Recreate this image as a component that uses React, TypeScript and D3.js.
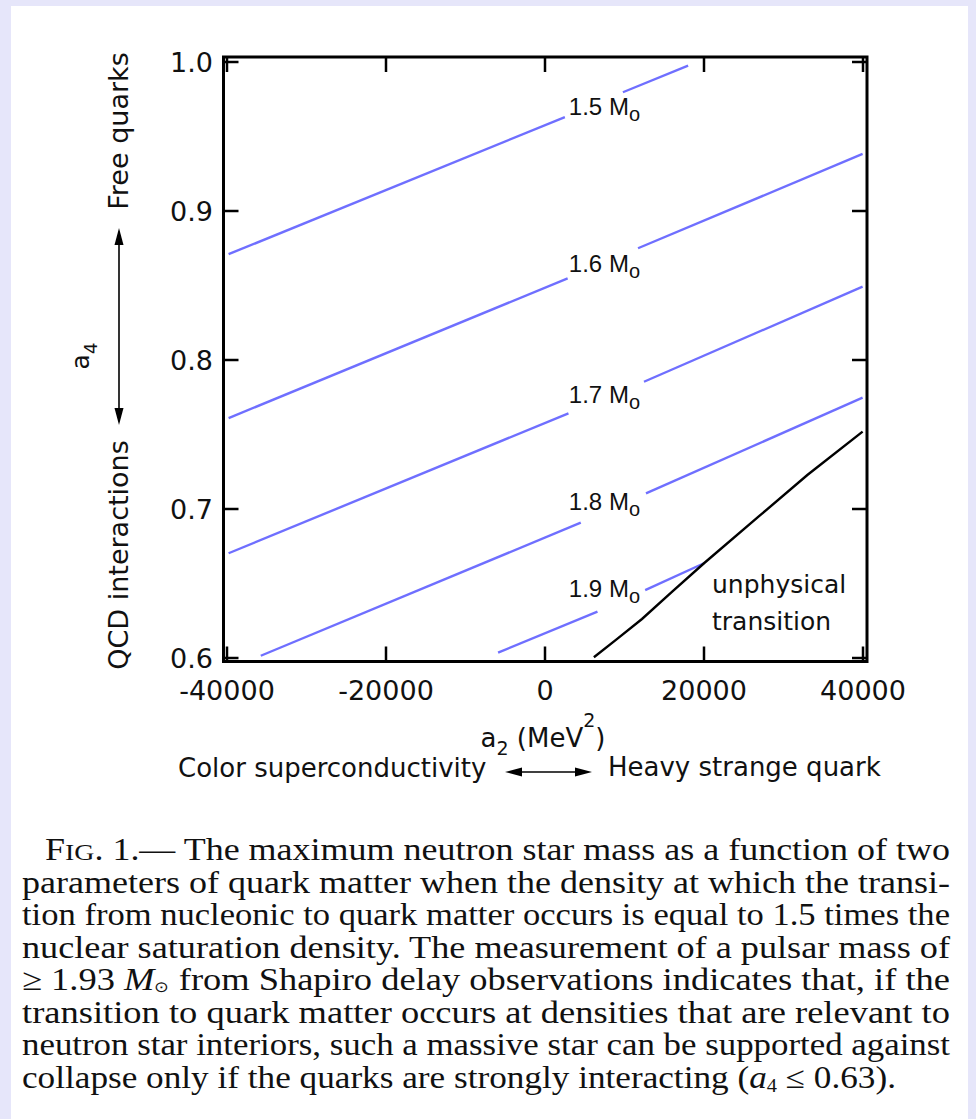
import React from "react";
import * as d3 from "d3";

type P = [number, number];

// ---- data ----
const A2_TICKS = [-40000, -20000, 0, 20000, 40000];
const A2_TICK_LABELS = ["-40000", "-20000", "0", "20000", "40000"];
const A4_TICKS = [0.6, 0.7, 0.8, 0.9, 1.0];
const A4_TICK_LABELS = ["0.6", "0.7", "0.8", "0.9", "1.0"];
const MASSES = ["1.5", "1.6", "1.7", "1.8", "1.9"];

// each contour: segments (broken where its label sits)
const M15: P[][] = [[[-39800, 0.871], [2500, 0.963]], [[9800, 0.9797], [18000, 0.9975]]];
const M16: P[][] = [[[-39800, 0.761], [2850, 0.8548]], [[11700, 0.875], [39950, 0.9383]]];
const M17: P[][] = [[[-39800, 0.6703], [2950, 0.7642]], [[12450, 0.7854], [39950, 0.8492]]];
const M18: P[][] = [[[-35750, 0.6015], [4500, 0.6908]], [[12700, 0.7105], [39950, 0.7747]]];
const M19: P[][] = [[[-5900, 0.6036], [6600, 0.6311]], [[12600, 0.6456], [20000, 0.6636]]];
const CONTOURS = [M15, M16, M17, M18, M19];
const LABEL_A2 = 3000;
const LABEL_A4 = [0.9644, 0.8589, 0.7713, 0.6993, 0.6409];

const UNPHYSICAL: P[] = [
  [6150, 0.6005], [9000, 0.6125], [12200, 0.6262], [16000, 0.6445],
  [20000, 0.6636], [27000, 0.6955], [33000, 0.7228], [39950, 0.7519],
];

const CAPTION = [
  "parameters of quark matter when the density at which the transi-",
  "tion from nucleonic to quark matter occurs is equal to 1.5 times the",
  "nuclear saturation density.  The measurement of a pulsar mass of",
];
const CAPTION2 = [
  "transition to quark matter occurs at densities that are relevant to",
  "neutron star interiors, such a massive star can be supported against",
];

// ---- layout ----
const W = 976;
const H = 1119;
const SANS = "'DejaVu Sans', Verdana, sans-serif";
const LSANS = "'Liberation Sans', Arial, sans-serif";
const SERIF = "'Liberation Serif', 'Times New Roman', serif";
const BLUE = "#6f6fff";
const CAP_FS = 31;

export default function App() {
  const x = d3.scaleLinear().domain([-40000, 40000]).range([227, 863]);
  const y = d3.scaleLinear().domain([0.6, 1.0]).range([658, 62]);
  const fl = x.range()[0] - 3.5;
  const fr = x.range()[1] + 4;
  const ft = y.range()[1] - 5;
  const fb = y.range()[0] + 3.5;
  const TL = 15;
  const line = d3.line<P>().x((d) => x(d[0])).y((d) => y(d[1]));

  const capX0 = 22;
  const capX1 = 950;
  const capY = (i: number) => 860 + i * 32.5;

  return (
    <svg width={W} height={H} style={{ position: "absolute", left: 0, top: 0 }}>
      <rect x={0} y={0} width={W} height={H} fill="#e6e6fa" />
      <rect x={11} y={6} width={957} height={H - 6} fill="#ffffff" />

      {/* contours */}
      {CONTOURS.map((segs, i) =>
        segs.map((s, j) => (
          <path key={`c${i}-${j}`} d={line(s) || ""} fill="none" stroke={BLUE} strokeWidth={2.4} />
        ))
      )}
      <path d={line(UNPHYSICAL) || ""} fill="none" stroke="#000" strokeWidth={2.4} />

      {/* contour labels */}
      {MASSES.map((m, i) => (
        <text key={`l${m}`} x={x(LABEL_A2)} y={y(LABEL_A4[i])} fontFamily={LSANS} fontSize={24} fill="#111">
          {m} M
          <tspan fontSize={20} dy={6}>o</tspan>
        </text>
      ))}
      <text x={712} y={593} fontFamily={SANS} fontSize={25} fill="#111">unphysical</text>
      <text x={712} y={630} fontFamily={SANS} fontSize={25} fill="#111">transition</text>

      {/* frame */}
      <rect x={fl} y={ft} width={fr - fl} height={fb - ft} fill="none" stroke="#000" strokeWidth={3} />
      {A2_TICKS.map((t) => (
        <g key={`xt${t}`}>
          <line x1={x(t)} x2={x(t)} y1={fb} y2={fb - TL} stroke="#000" strokeWidth={2.5} />
          <line x1={x(t)} x2={x(t)} y1={ft} y2={ft + TL} stroke="#000" strokeWidth={2.5} />
        </g>
      ))}
      {A4_TICKS.map((t) => (
        <g key={`yt${t}`}>
          <line x1={fl} x2={fl + TL} y1={y(t)} y2={y(t)} stroke="#000" strokeWidth={2.5} />
          <line x1={fr} x2={fr - TL} y1={y(t)} y2={y(t)} stroke="#000" strokeWidth={2.5} />
        </g>
      ))}
      {A2_TICKS.map((t, i) => (
        <text key={`xl${t}`} x={x(t)} y={700} textAnchor="middle" fontFamily={SANS} fontSize={27} fill="#111">
          {A2_TICK_LABELS[i]}
        </text>
      ))}
      {A4_TICKS.map((t, i) => (
        <text key={`yl${t}`} x={213} y={y(t) + 9.5} textAnchor="end" fontFamily={SANS} fontSize={27} fill="#111">
          {A4_TICK_LABELS[i]}
        </text>
      ))}

      {/* x axis titles */}
      <text x={543} y={747} textAnchor="middle" fontFamily={SANS} fontSize={26} fill="#111">
        a<tspan fontSize={19} dy={8}>2</tspan>
        <tspan dy={-8}> (MeV</tspan>
        <tspan fontSize={19} dy={-20}>2</tspan>
        <tspan dy={20}>)</tspan>
      </text>
      <text x={178} y={777} fontFamily={SANS} fontSize={26} fill="#111">Color superconductivity</text>
      <text x={608} y={776} fontFamily={SANS} fontSize={26} fill="#111">Heavy strange quark</text>
      <line x1={515} x2={582} y1={772} y2={772} stroke="#000" strokeWidth={1.6} />
      <polygon points="505,772 522,767.5 522,776.5" fill="#000" />
      <polygon points="592,772 575,767.5 575,776.5" fill="#000" />

      {/* y axis titles */}
      <text transform="translate(128,131) rotate(-90)" textAnchor="middle" fontFamily={SANS} fontSize={27} fill="#111">
        Free quarks
      </text>
      <text transform="translate(128,555) rotate(-90)" textAnchor="middle" fontFamily={SANS} fontSize={27} fill="#111">
        QCD interactions
      </text>
      <text transform="translate(89,356) rotate(-90)" textAnchor="middle" fontFamily={SANS} fontSize={25} fill="#111">
        a<tspan fontSize={18} dy={8}>4</tspan>
      </text>
      <line x1={119} x2={119} y1={238} y2={415} stroke="#000" strokeWidth={1.6} />
      <polygon points="119,228 114.5,245 123.5,245" fill="#000" />
      <polygon points="119,425 114.5,408 123.5,408" fill="#000" />

      {/* caption */}
      <text x={45} y={capY(0)} fontFamily={SERIF} fontSize={CAP_FS} fill="#111" textLength={capX1 - 45} lengthAdjust="spacingAndGlyphs">
        F<tspan fontSize={24}>IG</tspan>. 1.— The maximum neutron star mass as a function of two
      </text>
      {CAPTION.map((s, i) => (
        <text key={`cap${i}`} x={capX0} y={capY(i + 1)} fontFamily={SERIF} fontSize={CAP_FS} fill="#111" textLength={capX1 - capX0} lengthAdjust="spacingAndGlyphs">
          {s}
        </text>
      ))}
      <text x={capX0} y={capY(4)} fontFamily={SERIF} fontSize={CAP_FS} fill="#111" textLength={capX1 - capX0} lengthAdjust="spacingAndGlyphs">
        ≥ 1.93 <tspan fontStyle="italic">M</tspan>
        <tspan fontSize={15} dy={2}>⊙</tspan>
        <tspan dy={-2}> from Shapiro delay observations indicates that, if the</tspan>
      </text>
      {CAPTION2.map((s, i) => (
        <text key={`cap2${i}`} x={capX0} y={capY(i + 5)} fontFamily={SERIF} fontSize={CAP_FS} fill="#111" textLength={capX1 - capX0} lengthAdjust="spacingAndGlyphs">
          {s}
        </text>
      ))}
      <text x={capX0} y={capY(7)} fontFamily={SERIF} fontSize={CAP_FS} fill="#111" textLength={896 - capX0} lengthAdjust="spacingAndGlyphs">
        collapse only if the quarks are strongly interacting (<tspan fontStyle="italic">a</tspan>
        <tspan fontSize={18} dy={4}>4</tspan>
        <tspan dy={-4}> ≤ 0.63).</tspan>
      </text>
    </svg>
  );
}
